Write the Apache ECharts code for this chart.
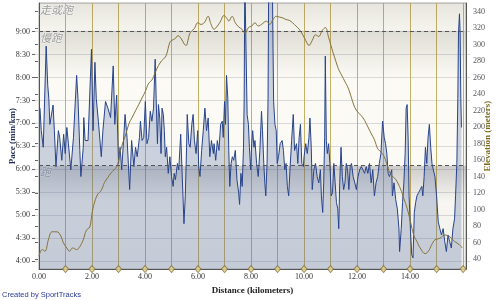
<!DOCTYPE html>
<html><head><meta charset="utf-8">
<script src="https://cdn.jsdelivr.net/npm/echarts@6/dist/echarts.min.js"></script>
<style>html,body{margin:0;padding:0;background:#fff}#c{width:500px;height:300px}</style>
</head><body><div id="c"></div>
<script>
// Pace (minutes per km) along the distance (km)
const paceData = [
[0.037,7.28],[0.086,6.78],[0.16,6.41],[0.27,8.66],[0.33,7.79],[0.37,7.50],[0.41,6.92],[0.53,7.35],[0.58,6.78],[0.64,5.98],[0.73,6.78],[0.78,6.63],[0.86,6.12],[0.93,6.70],[0.99,6.27],[1.05,6.85],[1.11,6.49],[1.20,5.91],[1.30,6.63],[1.42,8.01],[1.47,7.50],[1.54,6.34],[1.58,5.76],[1.67,6.41],[1.69,7.07],[1.74,6.56],[1.85,6.56],[1.98,8.59],[2.04,6.78],[2.11,8.30],[2.16,7.50],[2.24,6.99],[2.35,6.20],[2.41,6.78],[2.51,7.43],[2.60,7.28],[2.70,7.07],[2.80,8.22],[2.86,6.92],[2.93,7.57],[3.00,6.05],[3.06,6.41],[3.12,5.91],[3.19,6.56],
[3.247,7.14],[3.321,6.63],[3.420,5.47],[3.494,6.56],[3.580,5.98],[3.642,6.41],[3.704,6.20],[3.790,6.63],[3.827,6.99],[3.889,6.56],[3.951,6.63],[4.012,7.43],[4.074,6.49],[4.136,6.63],[4.198,7.21],[4.259,6.99],[4.321,7.28],[4.383,8.37],[4.420,7.50],[4.469,6.49],[4.506,7.36],[4.556,7.06],[4.605,6.27],[4.642,7.28],[4.691,7.14],[4.728,6.78],[4.765,6.20],[4.815,6.41],[4.877,5.83],[4.938,6.20],[5.000,5.76],[5.062,5.54],[5.099,5.83],[5.148,5.69],[5.222,6.05],[5.272,5.91],[5.346,6.70],[5.395,5.91],[5.432,5.33],[5.469,4.71],[5.519,5.33],[5.568,6.41],[5.593,7.14],[5.654,6.49],[5.704,6.41],[5.765,6.92],[5.815,7.14],[5.864,6.56],[5.926,6.27],[5.988,6.78],[6.025,5.98],[6.074,5.76],[6.136,6.34],[6.198,6.78],[6.259,7.28],[6.321,6.78],[6.383,7.06],[6.444,6.20],[6.506,6.56],[6.580,6.27],
[6.605,6.49],[6.667,6.12],[6.728,6.56],[6.790,6.34],[6.852,6.92],[6.914,6.99],[6.951,6.63],[7.000,7.43],[7.037,6.92],[7.074,8.01],[7.123,7.50],[7.160,6.34],[7.198,5.54],[7.247,6.05],[7.296,6.20],[7.346,6.12],[7.407,6.34],[7.469,5.69],[7.531,5.40],[7.568,5.14],[7.617,5.83],[7.667,5.54],[7.716,6.41],[7.741,7.50],[7.765,10.2],[7.827,10.2],[7.852,7.14],[7.901,6.92],[7.938,6.41],[7.988,5.91],[8.025,6.49],[8.062,6.78],[8.111,6.41],[8.148,6.56],[8.210,6.05],[8.272,5.76],[8.333,6.34],[8.395,7.21],[8.432,6.78],[8.481,6.05],[8.519,5.62],[8.556,5.33],[8.605,6.05],[8.642,7.50],[8.667,10.2],[8.802,10.2],[8.830,8.60],[8.852,7.43],[8.901,6.92],[8.951,6.78],[8.988,6.05],[9.037,6.20],[9.099,6.49],[9.173,6.56],[9.222,6.34],[9.272,5.91],[9.321,6.05],[9.370,5.54],[9.420,5.33],[9.469,5.91],[9.531,6.56],[9.593,7.14],[9.642,6.34],[9.716,6.49],[9.765,6.05],[9.815,6.63],[9.864,6.92],[9.914,6.05],[9.975,5.98],
[10.000,6.20],[10.062,6.49],[10.123,6.27],[10.185,6.63],[10.222,7.06],[10.272,6.41],[10.309,5.47],[10.370,5.91],[10.432,6.05],[10.494,5.76],[10.556,5.62],[10.617,5.91],[10.654,5.33],[10.704,4.96],[10.741,5.62],[10.778,6.63],[10.802,8.44],[10.840,6.56],[10.877,6.27],[10.926,6.49],[10.975,6.05],[11.025,5.33],[11.074,5.40],[11.123,6.05],[11.173,5.62],[11.222,5.18],[11.272,5.04],[11.309,4.60],[11.346,5.62],[11.395,6.41],[11.444,5.76],[11.494,5.47],[11.543,5.62],[11.593,6.05],[11.642,5.91],[11.691,5.47],[11.741,5.98],[11.790,6.05],[11.852,5.76],[11.914,5.62],[11.975,5.47],[12.037,5.76],[12.099,5.91],[12.160,5.98],[12.222,5.91],[12.284,5.83],[12.346,5.98],[12.407,5.83],[12.469,6.05],[12.531,5.62],[12.593,5.91],[12.654,5.33],[12.716,5.62],[12.778,5.76],[12.840,6.05],[12.901,6.27],[12.963,6.99],[13.025,6.63],[13.074,6.49],[13.123,6.27],[13.173,5.83],[13.222,5.76],[13.309,5.91],
[13.333,5.33],[13.395,5.62],[13.457,5.25],[13.519,5.04],[13.580,4.60],[13.605,4.09],[13.667,4.60],[13.716,5.18],[13.765,5.62],[13.815,6.27],[13.852,7.28],[13.889,7.36],[13.926,6.63],[13.963,5.33],[14.012,4.60],[14.062,4.02],[14.111,3.95],[14.160,4.96],[14.210,5.18],[14.259,5.33],[14.321,5.40],[14.383,5.47],[14.444,5.54],[14.481,5.33],[14.531,5.76],[14.580,6.41],[14.630,6.05],[14.679,6.63],[14.728,6.92],[14.778,6.41],[14.827,6.05],[14.877,5.91],[14.938,5.76],[15.000,5.33],[15.062,4.75],[15.123,4.60],[15.185,4.46],[15.247,4.60],[15.309,4.31],[15.370,4.09],[15.432,4.46],[15.494,4.31],[15.556,4.17],[15.617,4.60],[15.679,4.82],[15.716,5.33],[15.765,6.05],[15.802,7.50],[15.827,8.95],[15.864,9.38],[15.889,8.95],[15.914,7.50],[15.938,6.85]
];
// Elevation (meters) along the distance (km)
const elevationData = [
[0,37],[0.122,45],[0.222,43],[0.370,59],[0.493,67],[0.678,67],[0.804,63],[0.926,53],[1.048,47],[1.148,43],[1.270,47],[1.419,45],[1.544,49],[1.667,57],[1.789,69],[1.915,73],[2.011,92],[2.100,104],[2.222,114],[2.344,118],[2.470,128],[2.593,134],[2.715,140],[2.841,144],[2.963,150],[3.048,164],[3.148,176],[3.248,185],[3.396,201],[3.519,209],[3.641,217],[3.767,225],[3.889,233],[4.011,241],[4.137,251],[4.259,255],[4.381,264],[4.507,273],[4.630,279],[4.752,283],[4.815,287],[4.937,302],[5.000,304],[5.122,306],[5.248,310],[5.370,306],[5.493,299],[5.556,298],[5.619,304],[5.678,312],[5.741,315],[5.863,319],[5.989,326],[6.111,324],[6.233,326],[6.381,334],[6.481,325],[6.604,318],[6.730,322],[6.852,328],[6.974,335],[7.100,331],[7.159,328],[7.285,334],[7.407,326],[7.530,321],[7.656,318],[7.778,313],[7.900,320],[8.026,322],[8.148,326],[8.270,322],[8.396,324],[8.581,328],[8.704,324],[8.826,330],[8.952,334],[9.074,333],[9.196,332],[9.322,330],[9.444,329],[9.567,326],[9.693,322],[9.815,318],[9.937,312],[10.063,304],[10.185,298],[10.307,304],[10.433,311],[10.556,309],[10.678,316],[10.804,320],[10.926,308],[11.048,294],[11.174,281],[11.296,269],[11.419,261],[11.544,253],[11.667,245],[11.789,233],[11.915,221],[12.037,215],[12.159,211],[12.285,205],[12.407,197],[12.530,189],[12.656,181],[12.778,170],[12.900,166],[13.026,160],[13.148,148],[13.270,138],[13.456,132],[13.641,120],[13.767,108],[13.889,96],[14.011,80],[14.137,63],[14.259,55],[14.381,47],[14.567,40],[14.693,43],[14.815,51],[14.937,57],[15.122,59],[15.307,63],[15.493,61],[15.678,55],[15.863,51],[15.963,47]
];
const distanceLabels = [0, 2, 4, 6, 8, 10, 12, 14];
const kmMarkers = [1, 2, 3, 4, 5, 6, 7, 8, 9, 10, 11, 12, 13, 14, 15, 16];
const paceTicks = [4, 9, 0.5];          // first, last, step (min/km)
const elevationTicks = [40, 340, 20];   // first, last, step (m)
const zoneNames = ['走或跑', '慢跑', '跑'];
const zoneBounds = [9, 6];              // pace thresholds (min/km)

const paceMin = 3.70, paceMax = 9.62, distMax = 16.11;
const elevMin = 20.8, elevMax = 350.5;

function fmtPace(v) {
  const m = Math.floor(v + 1e-9);
  const s = Math.round((v - m) * 60);
  return m + ':' + (s < 10 ? '0' : '') + s;
}

const serif = 'Liberation Serif';
const chart = echarts.init(document.getElementById('c'), null, {renderer: 'canvas'});

const bandTop = [
  {offset: 0, color: 'rgba(60,55,40,0.11)'}, {offset: 1, color: 'rgba(60,55,40,0.03)'}];
const bandMid = [
  {offset: 0, color: 'rgba(60,55,40,0.15)'}, {offset: 0.35, color: 'rgba(60,55,40,0.0)'}, {offset: 1, color: 'rgba(60,55,40,0.0)'}];
const bandLow = [
  {offset: 0, color: 'rgba(40,40,50,0.22)'}, {offset: 0.35, color: 'rgba(40,40,50,0.02)'}, {offset: 1, color: 'rgba(40,40,50,0.05)'}];
const grad = (stops) => ({type: 'linear', x: 0, y: 0, x2: 0, y2: 1, colorStops: stops});
const zoneLabel = {
  show: true, position: 'insideTopLeft', distance: 1, fontSize: 11, fontStyle: 'italic',
  fontFamily: 'Noto Sans CJK SC', color: '#9a9a9a',
  textBorderColor: 'rgba(255,255,255,0.7)', textBorderWidth: 1
};

const option = {
  animation: false,
  grid: [
    {left: 35, right: 30, top: 3, bottom: 25, show: true, backgroundColor: '#fbfaf4', borderColor: '#a8a8a8', borderWidth: 1},
    {left: 35, right: 30, top: 31.5, bottom: 38.8},
    {left: 35, right: 30, top: 11.7, bottom: 40.8}
  ],
  xAxis: [
    {type: 'value', gridIndex: 0, min: 0, max: distMax, interval: 1,
     name: 'Distance (kilometers)', nameLocation: 'middle', nameGap: 12,
     nameTextStyle: {fontFamily: serif, fontWeight: 'bold', fontSize: 9, color: '#222'},
     axisLine: {show: true, lineStyle: {color: '#555', width: 1}},
     axisTick: {show: false},
     axisLabel: {margin: 4, fontFamily: serif, fontSize: 8, color: '#333',
       formatter: v => distanceLabels.indexOf(v) >= 0 ? v.toFixed(2) : ''},
     splitLine: {show: true, lineStyle: {color: '#c6b066', width: 1}}},
    {type: 'value', gridIndex: 1, min: 0, max: 1, show: false},
    {type: 'value', gridIndex: 2, min: 0, max: 1, show: false}
  ],
  yAxis: [
    {type: 'value', gridIndex: 0, min: paceMin, max: paceMax, position: 'left',
     name: 'Pace (min/km)', nameLocation: 'middle', nameGap: 22,
     nameTextStyle: {fontFamily: serif, fontWeight: 'bold', fontSize: 9, color: '#1f2a55'},
     axisLine: {show: true, lineStyle: {color: '#555'}}, axisTick: {show: false},
     axisLabel: {show: false}, splitLine: {show: false}},
    {type: 'value', gridIndex: 0, min: elevMin, max: elevMax, position: 'right',
     name: 'Elevation (meters)', nameLocation: 'middle', nameGap: 17,
     nameTextStyle: {fontFamily: serif, fontWeight: 'bold', fontSize: 9, color: '#7d6a1e'},
     axisLine: {show: true, lineStyle: {color: '#555'}}, axisTick: {show: false},
     axisLabel: {show: false}, splitLine: {show: false}},
    {type: 'value', gridIndex: 1, min: paceTicks[0], max: paceTicks[1], interval: paceTicks[2], position: 'left',
     axisLine: {show: false}, axisTick: {show: true, length: 3, lineStyle: {color: '#666'}},
     axisLabel: {margin: 5, fontFamily: serif, fontSize: 8, color: '#333', formatter: fmtPace},
     splitLine: {show: true, lineStyle: {color: '#d9d9d9', width: 1}}},
    {type: 'value', gridIndex: 2, min: elevationTicks[0], max: elevationTicks[1], interval: elevationTicks[2], position: 'right',
     axisLine: {show: false}, axisTick: {show: true, length: 3, lineStyle: {color: '#666'}},
     axisLabel: {margin: 3, fontFamily: serif, fontSize: 8, color: '#555'},
     splitLine: {show: false}}
  ],
  series: [
    {type: 'line', name: 'zones', xAxisIndex: 0, yAxisIndex: 0, data: [], z: 1, silent: true,
     markArea: {silent: true, data: [
       [{name: zoneNames[0], yAxis: paceMax, itemStyle: {color: grad(bandTop)}, label: zoneLabel}, {yAxis: zoneBounds[0]}],
       [{name: zoneNames[1], yAxis: zoneBounds[0], itemStyle: {color: grad(bandMid)}, label: zoneLabel}, {yAxis: zoneBounds[1]}],
       [{name: zoneNames[2], yAxis: zoneBounds[1], itemStyle: {color: grad(bandLow)}, label: zoneLabel}, {yAxis: paceMin}]
     ]}},
    {type: 'line', name: 'Pace', xAxisIndex: 0, yAxisIndex: 0, data: paceData, z: 3,
     showSymbol: false, clip: true,
     lineStyle: {color: '#27438a', width: 1},
     areaStyle: {color: 'rgba(92,114,168,0.42)', origin: 'start'}},
    {type: 'line', name: 'Elevation', xAxisIndex: 0, yAxisIndex: 1, data: elevationData, z: 4,
     showSymbol: false, smooth: 0.4, clip: true,
     lineStyle: {color: '#857238', width: 1}},
    {type: 'line', name: 'zoneLines', xAxisIndex: 0, yAxisIndex: 0, data: [], z: 5, silent: true,
     markLine: {silent: true, symbol: 'none', label: {show: false},
       lineStyle: {color: '#555', type: [4, 3], width: 1},
       data: zoneBounds.map(b => ({yAxis: b}))}},
    {type: 'scatter', name: 'km', xAxisIndex: 0, yAxisIndex: 0, z: 6, clip: false, silent: true,
     symbol: 'diamond', symbolSize: [6, 7],
     itemStyle: {color: '#e8d68e', borderColor: '#857238', borderWidth: 1},
     data: kmMarkers.map(k => [k, paceMin])}
  ],
  graphic: [
    {type: 'text', left: 2, top: 291,
     style: {text: 'Created by SportTracks', fontSize: 7.5, fontFamily: 'Liberation Sans', fill: '#2b3a92'}}
  ]
};
chart.setOption(option);
</script>
</body></html>
